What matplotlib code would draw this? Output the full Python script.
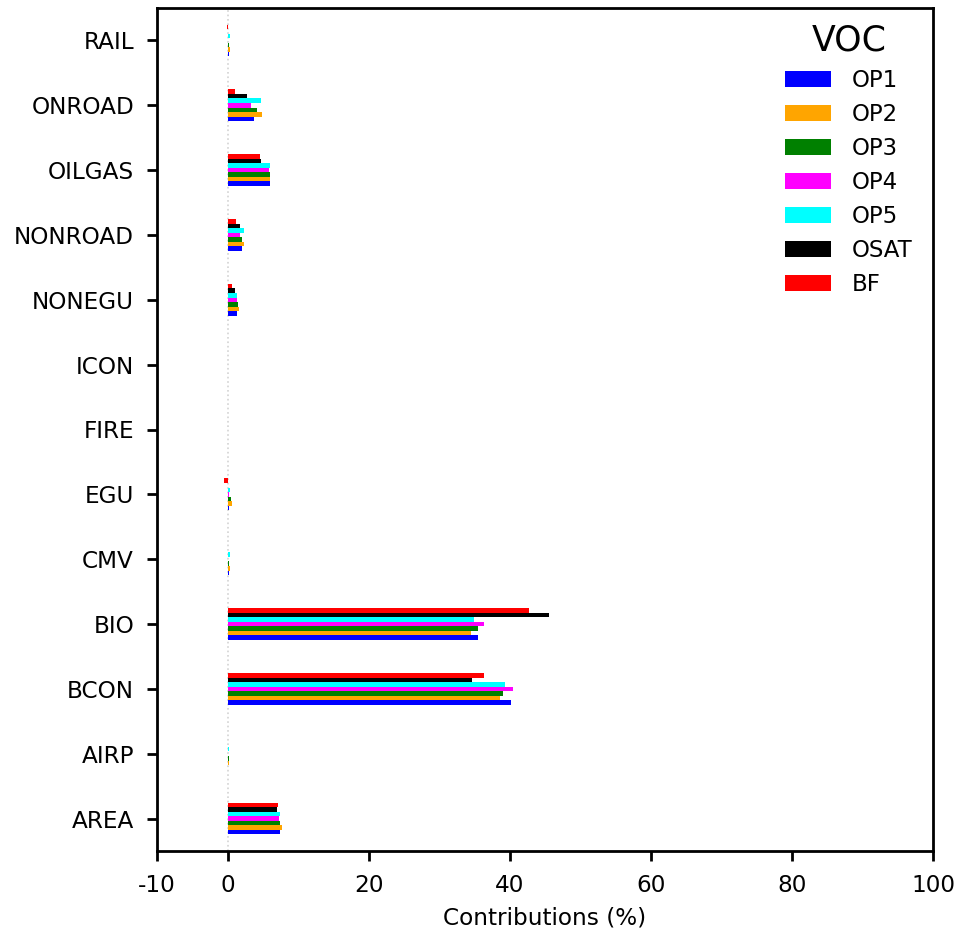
import matplotlib
matplotlib.use("Agg")
import matplotlib.pyplot as plt
import numpy as np

categories = ["AREA", "AIRP", "BCON", "BIO", "CMV", "EGU", "FIRE", "ICON",
              "NONEGU", "NONROAD", "OILGAS", "ONROAD", "RAIL"]
series_names = ["OP1", "OP2", "OP3", "OP4", "OP5", "OSAT", "BF"]
colors = ["blue", "orange", "green", "magenta", "cyan", "black", "red"]

OP1 = [7.5, 0.1, 40.2, 35.5, 0.25, 0.25, 0.05, 0.0, 1.4, 2.0, 5.95, 3.7, 0.25]
OP2 = [7.65, 0.25, 38.6, 34.5, 0.4, 0.6, 0.05, 0.0, 1.6, 2.4, 6.0, 4.9, 0.35]
OP3 = [7.45, 0.25, 39.1, 35.5, 0.25, 0.5, 0.05, 0.0, 1.5, 2.1, 5.95, 4.15, 0.25]
OP4 = [7.35, 0.1, 40.5, 36.3, 0.1, 0.25, 0.05, 0.0, 1.3, 1.75, 5.85, 3.3, 0.1]
OP5 = [7.5, 0.25, 39.4, 34.9, 0.3, 0.35, 0.05, 0.0, 1.4, 2.3, 6.0, 4.7, 0.3]
OSAT = [7.0, 0.1, 34.7, 45.5, 0.1, 0.1, 0.05, 0.0, 1.1, 1.75, 4.8, 2.8, 0.1]
BF = [7.2, 0.1, 36.4, 42.7, 0.0, -0.45, 0.05, 0.0, 0.7, 1.2, 4.6, 1.1, -0.05]

series = [OP1, OP2, OP3, OP4, OP5, OSAT, BF]

fig = plt.figure(figsize=(9.6, 9.36), dpi=100)
ax = fig.add_axes([157/960, 1 - 851/936, (933-157)/960, (851-8)/936])

y = np.arange(len(categories))
h = 0.07
for i, (name, vals, c) in enumerate(zip(series_names, series, colors)):
    ax.barh(y + (i - 3) * h, vals, height=h, color=c, label=name)

ax.axvline(0, color="lightgray", linestyle=":", linewidth=1.2, zorder=0)

ax.set_xlim(-10, 100)
ax.set_ylim(-0.5, 12.5)
ax.set_xticks([-10, 0, 20, 40, 60, 80, 100])
ax.set_xticklabels(["-10", "0", "20", "40", "60", "80", "100"])
ax.set_yticks(y)
ax.set_yticklabels(categories)
ax.tick_params(axis="both", labelsize=16.7, length=7.5, width=2, pad=9)
for s in ax.spines.values():
    s.set_linewidth(2)
ax.set_xlabel("Contributions (%)", fontsize=16.7, labelpad=7)

leg = ax.legend(loc="upper right", bbox_to_anchor=(0.9936, 1.0),
                frameon=False, fontsize=16.5, title="VOC",
                title_fontsize=25, handlelength=2.0, handleheight=0.7,
                labelspacing=0.48, handletextpad=0.9, borderaxespad=0.28)

fig.savefig("out.png", dpi=100)
